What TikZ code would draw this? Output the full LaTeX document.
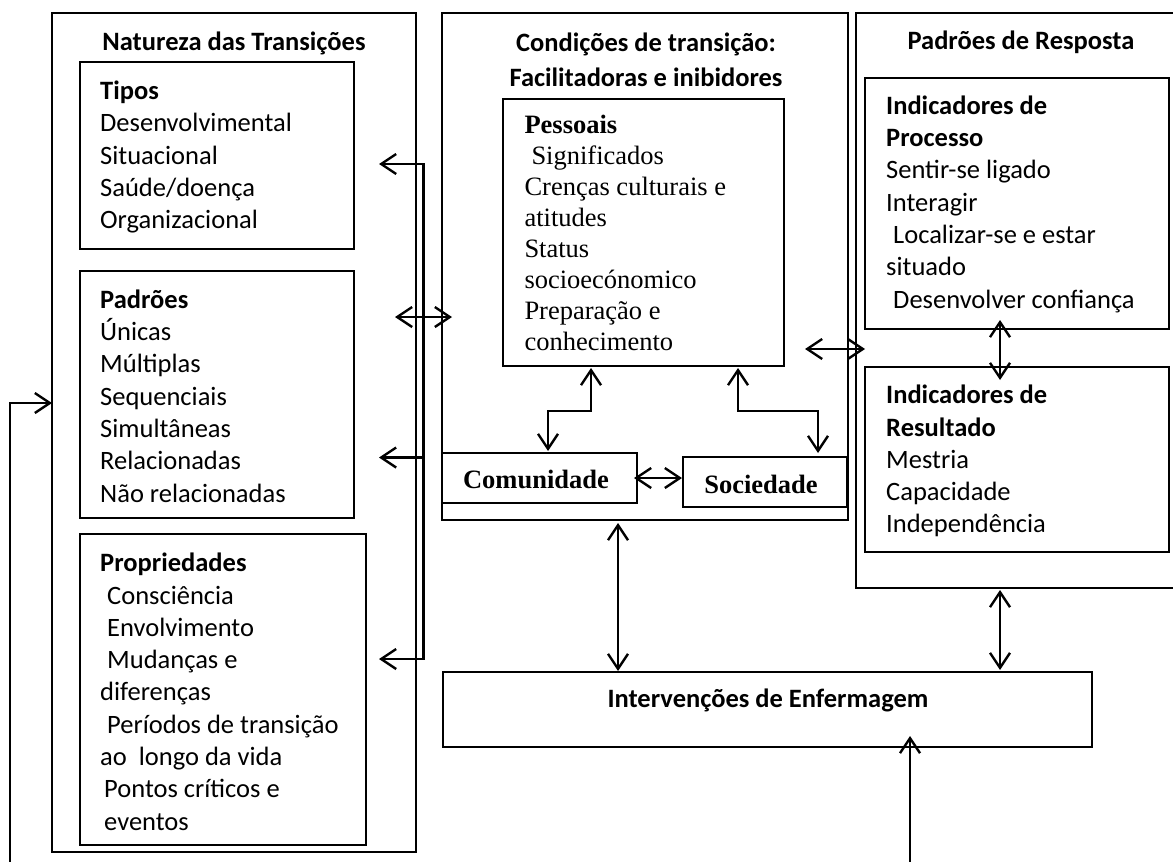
\documentclass[tikz,border=0pt]{standalone}
\usepackage{fontspec}
\setmainfont{Carlito}
\newfontfamily\tnr{Liberation Serif}
\usetikzlibrary{arrows.meta,fit}
\newcommand\myind{\hspace*{7pt}}
\begin{document}
\begin{tikzpicture}[x=1pt,y=-1pt,
  box/.style={draw, line width=1.3pt, inner sep=0pt},
  conn/.style={line width=2.4pt},
  >={Straight Barb[length=15pt,width=20pt]},
  txt/.style={inner sep=0pt, anchor=north west, align=left, font=\fontsize{26.5}{32.3}\selectfont},
  ttxt/.style={inner sep=0pt, anchor=north west, align=left, font=\tnr\fontsize{26.5}{30.9}\selectfont},
  ttl/.style={inner sep=0pt, anchor=base, font=\fontsize{26.5}{32.3}\selectfont\bfseries},
  tbold/.style={inner sep=0pt, anchor=base, font=\tnr\fontsize{26.5}{30.9}\selectfont\bfseries}
]
\useasboundingbox (0,0) rectangle (1173,862);

% boxes
\node[box, fit={(52,13) (416,852)}] (nat) {};
\node[box, fit={(80,62) (354,249)}] (tipos) {};
\node[box, fit={(80,271) (354,518)}] (padroes) {};
\node[box, fit={(80,534) (366,845)}] (props) {};
\node[box, fit={(442,13) (848,520)}] (cond) {};
\node[box, fit={(503,99) (784,366)}] (pessoais) {};
\node[box, fit={(442,453) (637,503)}] (comun) {};
\node[box, fit={(683,457) (847,507)}] (soc) {};
\node[box, fit={(856,13) (1176,588)}] (resp) {};
\node[box, fit={(865,78) (1169,329)}] (proc) {};
\node[box, fit={(865,367) (1169,552)}] (result) {};
\node[box, fit={(443,672) (1092,747)}] (interv) {};

% titles
\node[ttl] (natT) at (234,50) {Natureza das Transições};
\node[ttl] (condT1) at (646,51) {Condições de transição:};
\node[ttl] (condT2) at (646,86) {Facilitadoras e inibidores};
\node[ttl] (respT) at (1021,49.4) {Padrões de Resposta};
\node[ttl] (intervT) at (768,707) {Intervenções de Enfermagem};
\node[tbold] (comunT) at (536,488.5) {Comunidade};
\node[tbold] (socT) at (761,493) {Sociedade};

% box texts
\node[txt] (tiposT) at (100,75.4) {\rule{0pt}{24pt}\textbf{Tipos}\\Desenvolvimental\\Situacional\\Saúde/doença\\Organizacional};
\node[txt] (padroesT) at (100,284) {\rule{0pt}{24pt}\textbf{Padrões}\\Únicas\\Múltiplas\\Sequenciais\\Simultâneas\\Relacionadas\\Não relacionadas};
\node[txt] (propsT) at (100,547.5) {\rule{0pt}{24pt}\textbf{Propriedades}\\\myind Consciência\\\myind Envolvimento\\\myind Mudanças e\\diferenças\\\myind Períodos de transição\\ao~ longo da vida\\\hspace*{4pt}Pontos críticos e\\\hspace*{4pt}eventos};
\node[ttxt] (pessoaisT) at (524.3,109.5) {\rule{0pt}{24pt}\textbf{Pessoais}\\\myind Significados\\Crenças culturais e\\atitudes\\Status\\socioecónomico\\Preparação e\\conhecimento};
\node[txt] (procT) at (886,90) {\rule{0pt}{24pt}\textbf{Indicadores de}\\\textbf{Processo}\\Sentir-se ligado\\Interagir\\\myind Localizar-se e estar\\situado\\\myind Desenvolver confiança};
\node[txt] (resultT) at (886,379.5) {\rule{0pt}{24pt}\textbf{Indicadores de}\\\textbf{Resultado}\\Mestria\\Capacidade\\Independência};

% connector points
\coordinate (lkTop) at (423.5,164);
\coordinate (lkMid) at (423.5,457.5);
\coordinate (lkBot) at (423.5,659);
\coordinate (tipIn) at (379,164);
\coordinate (padIn) at (379,457.5);
\coordinate (propIn) at (379,659);
\coordinate (dA) at (395,317);
\coordinate (dB) at (452,317);
\coordinate (fbBot) at (10,862);
\coordinate (fbTop) at (10,403);
\coordinate (fbIn) at (52,403);
\coordinate (pc1) at (591,368);
\coordinate (pc2) at (591,411);
\coordinate (pc3) at (548,411);
\coordinate (pc4) at (548,451);
\coordinate (ps1) at (738,368);
\coordinate (ps2) at (738,411);
\coordinate (ps3) at (818,411);
\coordinate (ps4) at (818,453);
\coordinate (cs1) at (634,478);
\coordinate (cs2) at (682,478);
\coordinate (mr1) at (805,349);
\coordinate (mr2) at (865,349);
\coordinate (pr1) at (1000,320);
\coordinate (pr2) at (1000,380);
\coordinate (ci1) at (618,523);
\coordinate (ci2) at (618,671);
\coordinate (ri1) at (1000,590);
\coordinate (ri2) at (1000,670);
\coordinate (bt1) at (910,862);
\coordinate (bt2) at (910,736);

% connectors
\draw[conn,<->] (tipIn) -- (lkTop) -- (lkBot) -- (propIn);
\draw[conn,->] (lkMid) -- (padIn);
\draw[conn,<->] (dA) -- (dB);
\draw[conn,->] (fbBot) -- (fbTop) -- (fbIn);
\draw[conn,<->] (pc1) -- (pc2) -- (pc3) -- (pc4);
\draw[conn,<->] (ps1) -- (ps2) -- (ps3) -- (ps4);
\draw[conn,<->] (cs1) -- (cs2);
\draw[conn,<->] (mr1) -- (mr2);
\draw[conn,<->] (pr1) -- (pr2);
\draw[conn,<->] (ci1) -- (ci2);
\draw[conn,<->] (ri1) -- (ri2);
\draw[conn,->] (bt1) -- (bt2);
\end{tikzpicture}
\end{document}
